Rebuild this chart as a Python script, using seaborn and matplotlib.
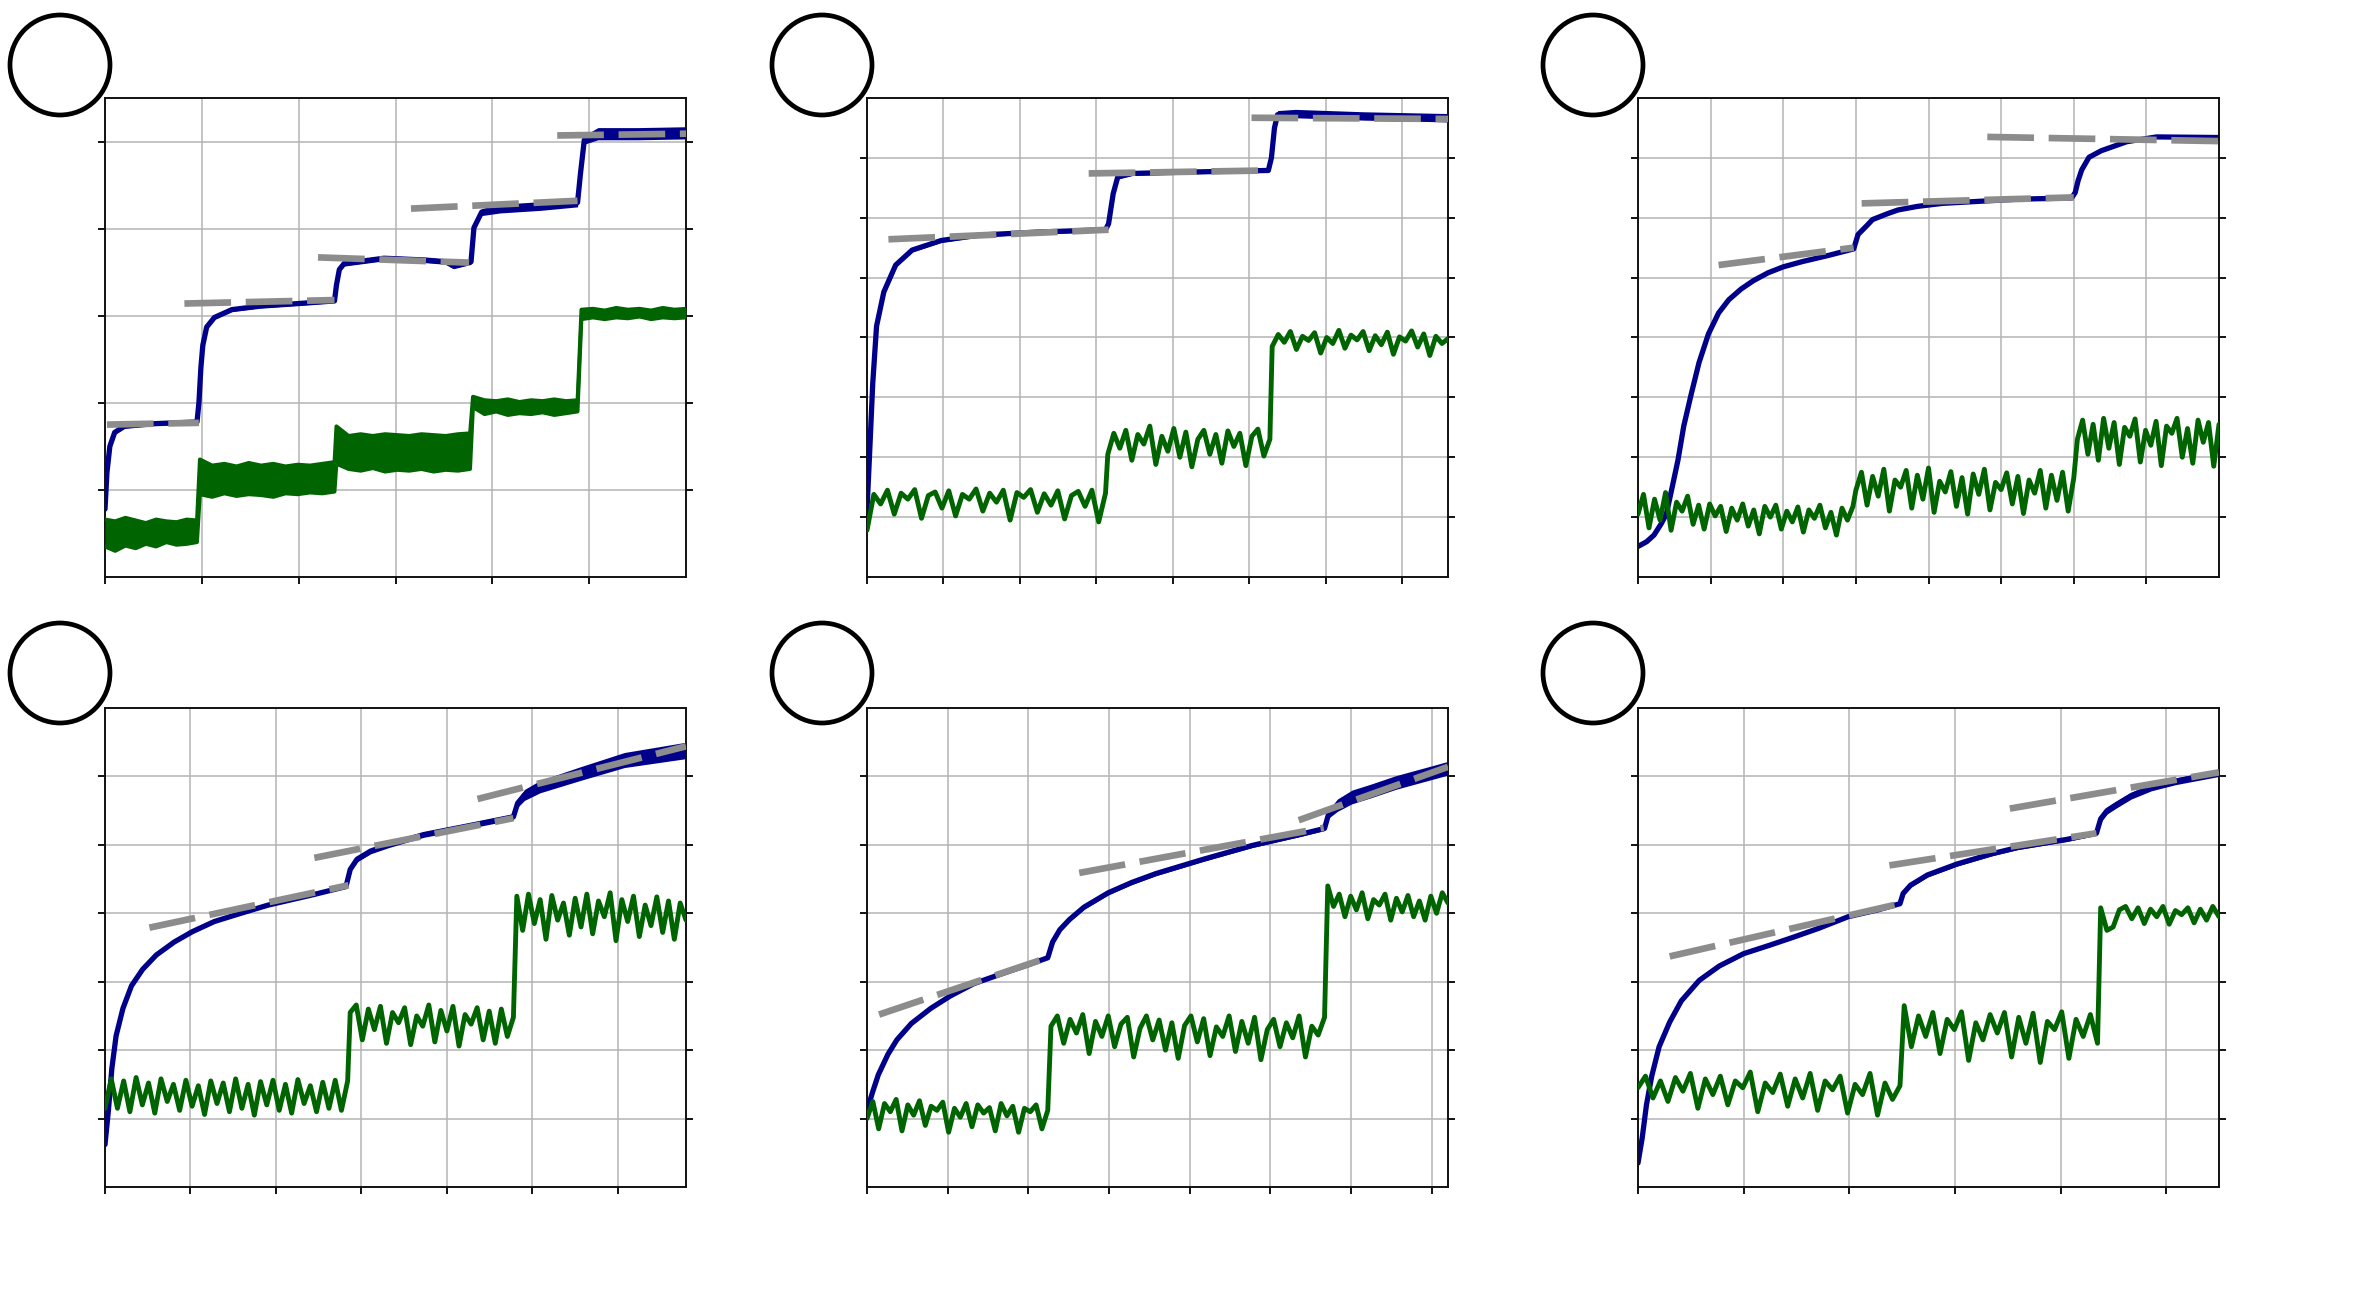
"""Six-panel step-response figure: blue trace, green noisy trace, grey dashed fits."""

import matplotlib

matplotlib.use("Agg")

import matplotlib.pyplot as plt
import numpy as np
import seaborn as sns
from matplotlib.patches import Ellipse

sns.set_style("ticks")

BLUE = "#00008b"
GREEN = "#006400"
FIT_GRAY = "#8c8c8c"
GRID_GRAY = "#b4b4b4"

W, H = 2357, 1312

# ---------------------------------------------------------------- panel 1
BLUE1_X = [0.0, 0.02, 0.05, 0.1, 0.2, 0.5, 0.95, 0.97, 0.99, 1.01, 1.05, 1.13, 1.31, 1.6, 2.0, 2.37,
           2.39, 2.42, 2.47, 2.88, 3.3, 3.52, 3.6, 3.71, 3.78, 3.81, 3.89, 4.08, 4.5, 4.88,
           4.91, 4.95, 5.09, 5.5, 6.0]
BLUE1_Y = [0.78, 1.2, 1.5, 1.66, 1.73, 1.76, 1.78, 2.0, 2.4, 2.66, 2.87, 2.98, 3.07, 3.11, 3.14, 3.17,
           3.35, 3.53, 3.6, 3.66, 3.64, 3.62, 3.57, 3.6, 3.62, 4.01, 4.19, 4.23, 4.26, 4.30,
           4.63, 5.02, 5.09, 5.09, 5.1]
BLUE1_HW = [0.01, 0.01, 0.01, 0.02, 0.02, 0.02, 0.02, 0.01, 0.01, 0.01, 0.02, 0.02, 0.02, 0.02, 0.02, 0.02,
            0.02, 0.02, 0.03, 0.03, 0.03, 0.03, 0.03, 0.03, 0.03, 0.02, 0.04, 0.05, 0.05, 0.05,
            0.03, 0.05, 0.07, 0.07, 0.07]
FIT1_X = [(0.02, 0.97), (0.82, 2.37), (2.2, 3.76), (3.16, 4.88), (4.67, 6.0)]
FIT1_Y = [(1.75, 1.77), (3.14, 3.18), (3.67, 3.61), (4.23, 4.32), (5.07, 5.09)]
GREEN1_BREAKS = [(0.0, 0.95), (0.98, 2.37), (2.39, 3.77), (3.80, 4.88), (4.92, 6.0)]
GREEN1_LO = [
    [0.35, 0.30, 0.36, 0.33, 0.38, 0.35, 0.40, 0.37, 0.38, 0.40],
    [0.95, 0.92, 0.96, 0.93, 0.95, 0.94, 0.92, 0.96, 0.95, 0.97, 0.96, 0.98],
    [1.30, 1.24, 1.22, 1.25, 1.21, 1.23, 1.22, 1.24, 1.21, 1.23, 1.22, 1.24],
    [1.95, 1.87, 1.90, 1.86, 1.88, 1.87, 1.89, 1.86, 1.88, 1.90],
    [2.96, 2.98, 2.96, 2.98, 2.97, 2.99, 2.96, 2.98, 2.97, 2.98],
]
GREEN1_HI = [
    [0.66, 0.64, 0.68, 0.65, 0.62, 0.66, 0.64, 0.63, 0.66, 0.65],
    [1.35, 1.28, 1.30, 1.27, 1.31, 1.28, 1.30, 1.27, 1.29, 1.28, 1.30, 1.32],
    [1.73, 1.62, 1.64, 1.62, 1.64, 1.63, 1.62, 1.64, 1.63, 1.62, 1.64, 1.65],
    [2.07, 2.03, 2.02, 2.04, 2.01, 2.03, 2.02, 2.04, 2.02, 2.03],
    [3.07, 3.08, 3.06, 3.09, 3.07, 3.08, 3.06, 3.09, 3.07, 3.08],
]

# ---------------------------------------------------------------- panel 2
BLUE2_X = [0.0, 0.03, 0.075, 0.125, 0.22, 0.375, 0.59, 0.97, 1.47, 2.22, 3.12,
           3.16, 3.22, 3.28, 3.47, 4.1, 5.25, 5.29, 5.33, 5.37, 5.6, 6.5, 7.6]
BLUE2_Y = [1.12, 1.95, 3.23, 4.19, 4.76, 5.21, 5.46, 5.62, 5.71, 5.76, 5.80,
           5.9, 6.4, 6.68, 6.74, 6.76, 6.79, 7.0, 7.5, 7.72, 7.74, 7.70, 7.67]
BLUE2_HW = [0.01, 0.01, 0.01, 0.02, 0.03, 0.03, 0.03, 0.03, 0.03, 0.03, 0.03,
            0.02, 0.02, 0.03, 0.03, 0.03, 0.03, 0.03, 0.05, 0.07, 0.07, 0.07, 0.07]
FIT2_X = [(0.28, 3.16), (2.9, 5.25), (5.03, 7.6)]
FIT2_Y = [(5.64, 5.80), (6.74, 6.79), (7.67, 7.65)]
GREEN2_BREAKS = [(0.0, 3.12), (3.15, 5.27), (5.3, 7.6)]
GREEN2_VALS = [
    [0.78, 1.38, 1.22, 1.45, 1.05, 1.40, 1.30, 1.46, 0.98, 1.36, 1.42, 1.15, 1.44, 1.02, 1.38, 1.30, 1.47, 1.10,
     1.40, 1.25, 1.45, 0.95, 1.41, 1.33, 1.46, 1.08, 1.39, 1.20, 1.44, 0.97, 1.36, 1.43, 1.18, 1.45, 0.92, 1.40],
    [2.05, 2.40, 2.15, 2.45, 1.95, 2.38, 2.22, 2.52, 1.88, 2.35, 2.10, 2.48, 2.00, 2.42, 1.84, 2.30, 2.45, 2.05,
     2.38, 1.90, 2.44, 2.18, 2.40, 1.86, 2.35, 2.47, 2.02, 2.30],
    [3.85, 4.05, 3.92, 4.10, 3.80, 4.02, 3.95, 4.08, 3.74, 4.00, 3.90, 4.12, 3.82, 4.04, 3.96, 4.10, 3.78, 4.03,
     3.88, 4.09, 3.72, 4.01, 3.94, 4.11, 3.84, 4.06, 3.70, 4.02, 3.90, 3.98],
]

# ---------------------------------------------------------------- panel 3
BLUE3_X = [0.0, 0.12, 0.22, 0.32, 0.39, 0.46, 0.55, 0.63, 0.73, 0.84, 0.97, 1.11, 1.25, 1.42, 1.59, 1.79,
           2.0, 2.27, 2.62, 2.97, 3.03, 3.16, 3.23, 3.44, 3.58, 3.85, 4.19, 5.22, 5.97,
           6.02, 6.06, 6.11, 6.21, 6.38, 6.73, 7.14, 8.0]
BLUE3_Y = [0.51, 0.59, 0.70, 0.89, 1.05, 1.44, 1.95, 2.52, 3.04, 3.58, 4.06, 4.41, 4.63, 4.81, 4.95, 5.08,
           5.18, 5.27, 5.37, 5.48, 5.72, 5.88, 5.97, 6.07, 6.13, 6.19, 6.24, 6.31, 6.33,
           6.42, 6.62, 6.8, 7.01, 7.12, 7.27, 7.35, 7.34]
BLUE3_HW = [0.01] * 37
FIT3_X = [(1.11, 2.97), (3.08, 6.0), (4.81, 8.0)]
FIT3_Y = [(5.21, 5.50), (6.24, 6.34), (7.35, 7.28)]
GREEN3_BREAKS = [(0.0, 2.96), (3.0, 6.0), (6.05, 8.0)]
GREEN3_VALS = [
    [1.05, 1.38, 0.82, 1.30, 0.95, 1.41, 0.78, 1.25, 1.10, 1.35, 0.88, 1.20, 0.80, 1.22, 1.02, 1.18, 0.76, 1.15,
     0.95, 1.22, 0.85, 1.12, 0.72, 1.18, 1.00, 1.20, 0.80, 1.10, 0.92, 1.17, 0.75, 1.12, 0.98, 1.20, 0.82, 1.08,
     0.70, 1.15, 0.95, 1.18],
    [1.45, 1.75, 1.20, 1.68, 1.35, 1.80, 1.10, 1.62, 1.50, 1.78, 1.15, 1.70, 1.30, 1.82, 1.08, 1.60, 1.42, 1.76,
     1.18, 1.66, 1.05, 1.72, 1.38, 1.80, 1.12, 1.58, 1.46, 1.74, 1.22, 1.68, 1.06, 1.62, 1.40, 1.78, 1.15, 1.70,
     1.28, 1.75, 1.10, 1.65],
    [2.30, 2.62, 2.05, 2.55, 1.95, 2.65, 2.15, 2.58, 1.88, 2.50, 2.35, 2.64, 1.92, 2.45, 2.20, 2.60, 1.86, 2.52,
     2.40, 2.65, 2.00, 2.48, 1.90, 2.62, 2.25, 2.58, 1.85, 2.55],
]

# ---------------------------------------------------------------- panel 4
BLUE4_X = [0.0, 0.04, 0.08, 0.13, 0.21, 0.31, 0.44, 0.6, 0.81, 1.02, 1.28, 1.59, 1.91, 2.43, 2.82,
           2.87, 2.95, 3.11, 3.32, 3.73, 4.26, 4.78, 4.83, 4.91, 5.09, 5.56, 6.08, 6.8]
BLUE4_Y = [0.62, 1.12, 1.73, 2.21, 2.61, 2.94, 3.18, 3.39, 3.58, 3.73, 3.88, 4.0, 4.12, 4.27, 4.39,
           4.64, 4.79, 4.91, 5.0, 5.15, 5.28, 5.41, 5.61, 5.73, 5.85, 6.04, 6.24, 6.38]
BLUE4_HW = [0.01, 0.01, 0.01, 0.02, 0.02, 0.02, 0.02, 0.02, 0.02, 0.02, 0.02, 0.02, 0.02, 0.02, 0.02,
            0.03, 0.04, 0.04, 0.04, 0.04, 0.04, 0.04, 0.06, 0.08, 0.09, 0.10, 0.11, 0.12]
FIT4_X = [(0.52, 2.85), (2.45, 4.78), (4.36, 6.8)]
FIT4_Y = [(3.79, 4.41), (4.81, 5.39), (5.67, 6.44)]
GREEN4_BREAKS = [(0.0, 2.84), (2.87, 4.78), (4.82, 6.8)]
GREEN4_VALS = [
    [1.15, 1.58, 1.15, 1.55, 1.10, 1.60, 1.20, 1.52, 1.08, 1.58, 1.25, 1.50, 1.12, 1.56, 1.18, 1.48, 1.06, 1.55,
     1.22, 1.52, 1.10, 1.58, 1.15, 1.50, 1.05, 1.54, 1.20, 1.56, 1.12, 1.50, 1.08, 1.57, 1.22, 1.48, 1.10, 1.53,
     1.15, 1.56, 1.12, 1.55],
    [2.55, 2.66, 2.15, 2.60, 2.30, 2.64, 2.10, 2.55, 2.40, 2.62, 2.08, 2.50, 2.35, 2.66, 2.12, 2.58, 2.28, 2.64,
     2.06, 2.52, 2.38, 2.62, 2.15, 2.57, 2.10, 2.60, 2.20, 2.48],
    [4.25, 3.75, 4.28, 3.85, 4.20, 3.62, 4.26, 3.90, 4.15, 3.68, 4.22, 3.80, 4.28, 3.70, 4.18, 3.95, 4.30, 3.60,
     4.20, 3.88, 4.25, 3.66, 4.12, 3.82, 4.24, 3.72, 4.18, 3.62, 4.15, 3.90],
]

# ---------------------------------------------------------------- panel 5
BLUE5_X = [0.0, 0.07, 0.14, 0.26, 0.37, 0.55, 0.79, 1.03, 1.32, 1.68, 1.98, 2.24,
           2.30, 2.39, 2.51, 2.69, 2.99, 3.28, 3.58, 4.17, 4.77, 5.36, 5.67,
           5.72, 5.83, 6.01, 6.25, 6.55, 7.2]
BLUE5_Y = [1.12, 1.39, 1.64, 1.94, 2.15, 2.39, 2.61, 2.79, 2.97, 3.12, 3.24, 3.35,
           3.58, 3.76, 3.91, 4.09, 4.30, 4.45, 4.58, 4.79, 4.99, 5.15, 5.24,
           5.45, 5.58, 5.70, 5.79, 5.91, 6.12]
BLUE5_HW = [0.01, 0.01, 0.02, 0.02, 0.02, 0.02, 0.02, 0.02, 0.02, 0.02, 0.02, 0.02,
            0.02, 0.03, 0.03, 0.03, 0.03, 0.03, 0.03, 0.03, 0.03, 0.03, 0.03,
            0.06, 0.09, 0.10, 0.10, 0.10, 0.10]
FIT5_X = [(0.15, 2.26), (2.63, 5.66), (5.35, 7.2)]
FIT5_Y = [(2.52, 3.36), (4.59, 5.25), (5.36, 6.14)]
GREEN5_BREAKS = [(0.0, 2.24), (2.28, 5.67), (5.71, 7.2)]
GREEN5_VALS = [
    [1.00, 1.25, 0.85, 1.22, 1.10, 1.28, 0.82, 1.20, 1.05, 1.26, 0.90, 1.18, 1.12, 1.24, 0.80, 1.15, 1.02, 1.22,
     0.88, 1.20, 1.08, 1.16, 0.82, 1.22, 1.04, 1.18, 0.80, 1.15, 1.10, 1.20, 0.85, 1.12],
    [2.35, 2.50, 2.10, 2.45, 2.25, 2.52, 1.95, 2.42, 2.20, 2.50, 2.05, 2.38, 2.48, 1.90, 2.32, 2.50, 2.15, 2.44,
     2.00, 2.40, 1.88, 2.36, 2.50, 2.12, 2.46, 1.92, 2.34, 2.20, 2.50, 1.98, 2.42, 2.10, 2.48, 1.86, 2.30, 2.45,
     2.05, 2.40, 2.18, 2.50, 1.90, 2.35, 2.22, 2.48],
    [4.40, 4.10, 4.28, 3.95, 4.25, 4.05, 4.30, 3.92, 4.20, 4.12, 4.28, 3.90, 4.22, 4.02, 4.26, 3.95, 4.18, 3.90,
     4.25, 4.00, 4.30, 4.15],
]

# ---------------------------------------------------------------- panel 6
BLUE6_X = [0.0, 0.04, 0.08, 0.13, 0.2, 0.3, 0.41, 0.58, 0.77, 1.0, 1.24, 1.47, 1.71, 1.99, 2.27, 2.48,
           2.51, 2.58, 2.74, 3.02, 3.35, 3.59, 4.06, 4.34,
           4.38, 4.44, 4.53, 4.67, 4.86, 5.09, 5.5]
BLUE6_Y = [0.35, 0.72, 1.2, 1.62, 2.05, 2.41, 2.72, 3.02, 3.23, 3.41, 3.53, 3.65, 3.78, 3.95, 4.05, 4.14,
           4.29, 4.41, 4.56, 4.72, 4.87, 4.96, 5.08, 5.17,
           5.38, 5.50, 5.59, 5.72, 5.84, 5.93, 6.05]
BLUE6_HW = [0.01, 0.01, 0.01, 0.02, 0.02, 0.02, 0.02, 0.02, 0.02, 0.02, 0.02, 0.02, 0.02, 0.02, 0.02, 0.02,
            0.03, 0.03, 0.03, 0.03, 0.03, 0.03, 0.03, 0.03,
            0.05, 0.05, 0.05, 0.05, 0.05, 0.05, 0.05]
FIT6_X = [(0.3, 2.48), (2.38, 4.34), (3.52, 5.5)]
FIT6_Y = [(3.37, 4.14), (4.70, 5.17), (5.53, 6.06)]
GREEN6_BREAKS = [(0.0, 2.48), (2.52, 4.35), (4.38, 5.5)]
GREEN6_VALS = [
    [1.45, 1.62, 1.30, 1.55, 1.25, 1.60, 1.40, 1.66, 1.15, 1.58, 1.35, 1.62, 1.20, 1.55, 1.45, 1.68, 1.10, 1.52,
     1.38, 1.65, 1.18, 1.58, 1.30, 1.66, 1.12, 1.55, 1.42, 1.62, 1.08, 1.50, 1.35, 1.66, 1.05, 1.52, 1.28, 1.48],
    [2.65, 2.05, 2.50, 2.20, 2.55, 1.95, 2.45, 2.30, 2.56, 1.85, 2.40, 2.15, 2.52, 2.25, 2.55, 1.90, 2.48, 2.10,
     2.54, 1.82, 2.42, 2.30, 2.56, 1.88, 2.45, 2.20, 2.52, 2.10],
    [4.08, 3.75, 3.80, 4.05, 4.10, 3.92, 4.08, 3.85, 4.06, 3.95, 4.10, 3.84, 4.04, 3.98, 4.08, 3.86, 4.06, 3.90,
     4.10, 3.95],
]

# axis limits (data units) for each panel
XMAX = [6.0, 7.6, 8.0, 6.8, 7.2, 5.5]
YMAX = [5.5, 8.0, 8.0, 7.0, 7.0, 7.0]

# layout in pixels
COL_LEFT = [105, 867, 1638]
ROW_TOP = [98, 708]
AX_W, AX_H = 581, 479


def segments_to_xy(breaks, vals):
    xs, ys = [], []
    for (x0, x1), v in zip(breaks, vals):
        xs.append(np.linspace(x0, x1, len(v)))
        ys.append(np.asarray(v, dtype=float))
    return np.concatenate(xs), np.concatenate(ys)


def line(ax, x, y, color, width, zorder):
    sns.lineplot(x=x, y=y, ax=ax, color=color, estimator=None, sort=False, zorder=zorder)
    ln = ax.lines[-1]
    ln.set_linewidth(width)
    ln.set_solid_joinstyle("round")
    return ln


def draw_blue(ax, x, y, hw):
    x, y, hw = (np.asarray(a, dtype=float) for a in (x, y, hw))
    ax.fill_between(x, y - hw, y + hw, color=BLUE, lw=0, zorder=2)
    line(ax, x, y, BLUE, 3.8, 2)


def draw_fits(ax, fit_x, fit_y):
    for xs, ys in zip(fit_x, fit_y):
        ln = line(ax, list(xs), list(ys), FIT_GRAY, 4.8, 4)
        ln.set_dashes((7, 2.2))
        ln.set_dash_capstyle("butt")


def style_axes(ax, xmax, ymax):
    ax.set_xlim(0, xmax)
    ax.set_ylim(0, ymax)
    ax.set_xticks(np.arange(0, xmax - 1e-6, 1.0))
    ax.set_yticks(np.arange(1, ymax - 0.25, 1.0))
    ax.grid(True, color=GRID_GRAY, lw=1.1)
    ax.set_axisbelow(True)
    ax.tick_params(direction="out", length=5, width=1.3, color="black",
                   left=True, right=True, bottom=True, top=False,
                   labelleft=False, labelbottom=False)
    for sp in ax.spines.values():
        sp.set_visible(True)
        sp.set_linewidth(1.4)
        sp.set_color("#111111")
    ax.set_xlabel("")
    ax.set_ylabel("")


fig = plt.figure(figsize=(W / 100, H / 100), dpi=100)
fig.patch.set_facecolor("white")

axes = []
for r in range(2):
    for c in range(3):
        left = COL_LEFT[c] / W
        bottom = 1 - (ROW_TOP[r] + AX_H) / H
        axes.append(fig.add_axes([left, bottom, AX_W / W, AX_H / H]))

blues = [(BLUE1_X, BLUE1_Y, BLUE1_HW), (BLUE2_X, BLUE2_Y, BLUE2_HW), (BLUE3_X, BLUE3_Y, BLUE3_HW),
         (BLUE4_X, BLUE4_Y, BLUE4_HW), (BLUE5_X, BLUE5_Y, BLUE5_HW), (BLUE6_X, BLUE6_Y, BLUE6_HW)]
fits = [(FIT1_X, FIT1_Y), (FIT2_X, FIT2_Y), (FIT3_X, FIT3_Y),
        (FIT4_X, FIT4_Y), (FIT5_X, FIT5_Y), (FIT6_X, FIT6_Y)]
greens = [None, (GREEN2_BREAKS, GREEN2_VALS), (GREEN3_BREAKS, GREEN3_VALS),
          (GREEN4_BREAKS, GREEN4_VALS), (GREEN5_BREAKS, GREEN5_VALS), (GREEN6_BREAKS, GREEN6_VALS)]

for i, ax in enumerate(axes):
    draw_blue(ax, *blues[i])

    if greens[i] is None:
        gx, glo = segments_to_xy(GREEN1_BREAKS, GREEN1_LO)
        _, ghi = segments_to_xy(GREEN1_BREAKS, GREEN1_HI)
        ax.fill_between(gx, glo, ghi, color=GREEN, lw=0, zorder=3)
        line(ax, gx, glo, GREEN, 2.8, 3)
        line(ax, gx, ghi, GREEN, 2.8, 3)
    else:
        gx, gy = segments_to_xy(*greens[i])
        line(ax, gx, gy, GREEN, 3.5, 3)

    draw_fits(ax, *fits[i])
    style_axes(ax, XMAX[i], YMAX[i])

# empty panel-label circles
for r, cy in enumerate([65, 673]):
    for c in range(3):
        cx = COL_LEFT[c] - 45
        fig.add_artist(Ellipse((cx / W, 1 - cy / H), width=100 / W, height=100 / H,
                               transform=fig.transFigure, fill=False, lw=3.4, ec="black"))

fig.savefig("out.png", dpi=100, facecolor="white")
